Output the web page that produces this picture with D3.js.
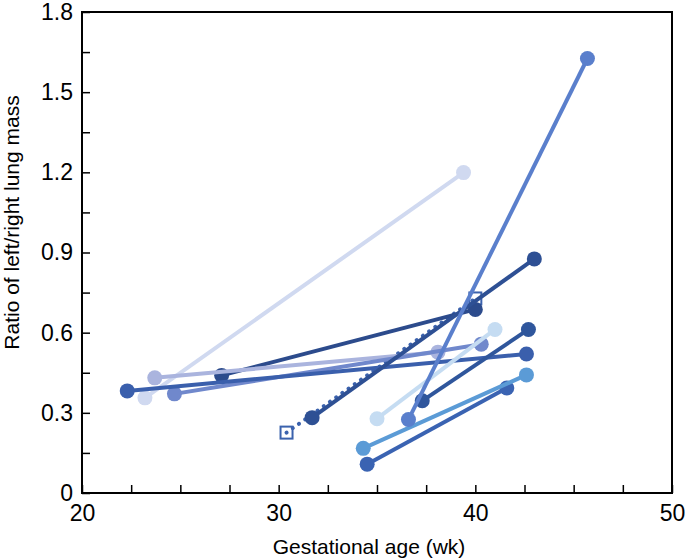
<!DOCTYPE html>
<html><head><meta charset="utf-8">
<script src="https://cdn.jsdelivr.net/npm/d3@7"></script>
<style>body{margin:0;background:#fff;} svg{display:block;font-family:"Liberation Sans",Arial,sans-serif;}</style>
</head><body>
<svg id="c" width="685" height="560"></svg>
<script>
// Each pair: [start week, start ratio, end week, end ratio]
const pairIds   = ["H","A","K","J","I","G","F","E","D","C","B"];
const startWeek = [27.1, 23.2, 23.7, 24.7, 22.3, 31.7, 37.3, 34.5, 34.3, 35.0, 36.6];
const startRatio= [0.44, 0.356,0.431,0.371,0.382,0.282,0.345,0.108,0.167,0.278,0.275];
const endWeek   = [40.0, 39.4, 38.1, 40.3, 42.6, 43.0, 42.7, 41.6, 42.6, 41.0, 45.7];
const endRatio  = [0.687,1.199,0.527,0.557,0.52, 0.876,0.612,0.393,0.442,0.612,1.626];
const pairColors= ["#2c4b8c","#d0d9f0","#aab4de","#7088cc","#3a5fac","#2e5094","#2f569c","#3a63b2","#5b9bd6","#c5dcf2","#5a7fcc"];
// dotted series with square markers
const sqWeek  = [30.4, 40.0];
const sqRatio = [0.226, 0.728];
const sqColor = "#3b62ad";

const xTicks = [20,30,40,50];
const yTicks = [0,0.3,0.6,0.9,1.2,1.5,1.8];
const xMinor = d3.range(20, 50.01, 2.5);
const yMinor = d3.range(0, 1.801, 0.15);

const W=685,H=560, m={l:82,r:13,t:12,b:67};
const svg=d3.select("#c");
const x=d3.scaleLinear().domain([20,50]).range([m.l,W-m.r]);
const y=d3.scaleLinear().domain([0,1.8]).range([H-m.b,m.t]);

const g=svg.append("g");
g.append("line").attr("x1",x(sqWeek[0])).attr("y1",y(sqRatio[0])).attr("x2",x(sqWeek[1])).attr("y2",y(sqRatio[1]))
  .attr("stroke",sqColor).attr("stroke-width",4).attr("stroke-linecap","round").attr("stroke-dasharray","0.1 7.5");
sqWeek.forEach((w,i)=>{
  g.append("rect").attr("x",x(w)-6).attr("y",y(sqRatio[i])-6).attr("width",12).attr("height",12)
   .attr("fill","none").attr("stroke",sqColor).attr("stroke-width",2);
});
pairIds.forEach((id,i)=>{
  const gg=g.append("g");
  gg.append("line").attr("x1",x(startWeek[i])).attr("y1",y(startRatio[i])).attr("x2",x(endWeek[i])).attr("y2",y(endRatio[i]))
    .attr("stroke",pairColors[i]).attr("stroke-width",4);
  [[startWeek[i],startRatio[i]],[endWeek[i],endRatio[i]]].forEach(p=>{
    gg.append("circle").attr("cx",x(p[0])).attr("cy",y(p[1])).attr("r",7.5).attr("fill",pairColors[i]);
  });
});

svg.append("rect").attr("x",m.l).attr("y",m.t).attr("width",W-m.r-m.l).attr("height",H-m.b-m.t)
  .attr("fill","none").attr("stroke","#000").attr("stroke-width",2);
const xa=svg.append("g").attr("transform",`translate(0,${H-m.b})`)
  .call(d3.axisBottom(x).tickValues(xMinor).tickSize(-8).tickFormat(""));
xa.select(".domain").remove();
xa.selectAll("line").attr("stroke","#000").attr("stroke-width",1.5);
const ya=svg.append("g").attr("transform",`translate(${m.l},0)`)
  .call(d3.axisLeft(y).tickValues(yMinor).tickSize(-8).tickFormat(""));
ya.select(".domain").remove();
ya.selectAll("line").attr("stroke","#000").attr("stroke-width",1.5);
const xl=svg.append("g").attr("transform",`translate(0,${H-m.b})`)
  .call(d3.axisBottom(x).tickValues(xTicks).tickSize(0).tickPadding(12).tickFormat(d3.format("d")));
xl.select(".domain").remove();
xl.selectAll("text").attr("font-size",23).attr("fill","#000").attr("font-family","Liberation Sans, Arial, sans-serif");
const yl=svg.append("g").attr("transform",`translate(${m.l},0)`)
  .call(d3.axisLeft(y).tickValues(yTicks).tickSize(0).tickPadding(9).tickFormat(d=>d===0?"0":d3.format(".1f")(d)));
yl.select(".domain").remove();
yl.selectAll("text").attr("font-size",23).attr("fill","#000").attr("font-family","Liberation Sans, Arial, sans-serif");

svg.append("text").attr("x",(m.l+W-m.r)/2 - 8).attr("y",554).attr("text-anchor","middle")
  .attr("font-size",21).text("Gestational age (wk)");
svg.append("text").attr("transform",`translate(19,${(m.t+H-m.b)/2 - 30}) rotate(-90)`).attr("text-anchor","middle")
  .attr("font-size",21).text("Ratio of left/right lung mass");
</script>
</body></html>
